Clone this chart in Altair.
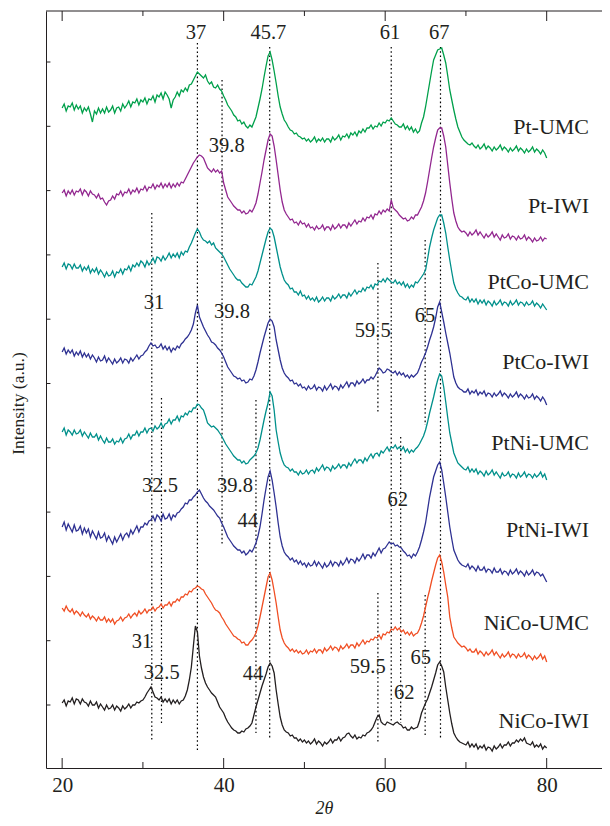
import altair as alt
import pandas as pd

# ---------------- data (intensity in a.u.) ----------------
two_theta = [20 + 0.25 * i for i in range(241)]

series_names = ["Pt-UMC", "Pt-IWI", "PtCo-UMC", "PtCo-IWI",
                "PtNi-UMC", "PtNi-IWI", "NiCo-UMC", "NiCo-IWI"]
series_colors = ["#00a04b", "#92278f", "#00908b", "#2e3192",
                 "#00908b", "#2e3192", "#f04e23", "#231f20"]
series_widths = [1.3, 1.3, 1.3, 1.3, 1.3, 1.3, 1.3, 1.6]

pt_umc = [
 660, 664, 657, 662, 661, 665, 658, 663, 659, 662, 655, 660, 657, 661, 654, 646,
 657, 654, 660, 655, 659, 655, 661, 656, 658, 662, 655, 660, 661, 657, 664, 660,
 663, 667, 661, 666, 665, 669, 663, 668, 666, 670, 664, 669, 668, 672, 666, 673,
 671, 675, 669, 676, 673, 669, 660, 668, 671, 676, 672, 678, 676, 680, 677, 683,
 684, 688, 692, 696, 694, 692, 690, 693, 687, 684, 686, 681, 680, 683, 679, 677,
 672, 668, 663, 660, 657, 653, 651, 647, 648, 644, 646, 642, 640, 643, 641, 646,
 651, 660, 669, 679, 691, 702, 712, 716, 708, 697, 685, 672, 661, 654, 648, 645,
 641, 638, 637, 634, 635, 632, 631, 629, 630, 627, 629, 626, 628, 631, 626, 629,
 627, 630, 626, 629, 629, 626, 631, 628, 630, 633, 628, 632, 631, 634, 630, 635,
 633, 636, 632, 637, 635, 639, 636, 640, 640, 643, 639, 642, 641, 645, 642, 646,
 645, 648, 647, 650, 647, 644, 643, 641, 641, 644, 639, 642, 638, 641, 636, 639,
 635, 637, 645, 651, 661, 673, 685, 697, 708, 713, 718, 719, 720, 713, 705, 692,
 678, 668, 658, 649, 641, 636, 631, 628, 626, 624, 623, 625, 622, 620, 623, 619,
 621, 624, 619, 622, 620, 617, 621, 618, 620, 623, 618, 621, 619, 616, 620, 617,
 619, 622, 617, 620, 618, 615, 619, 616, 618, 621, 616, 619, 617, 614, 618, 615,
 610]

pt_iwi = [
 575, 578, 572, 577, 574, 578, 573, 577, 576, 579, 573, 578, 576, 572, 577, 574,
 573, 570, 574, 569, 570, 566, 563, 567, 568, 572, 569, 574, 573, 577, 572, 576,
 575, 579, 574, 578, 576, 580, 575, 579, 578, 582, 577, 581, 580, 584, 579, 583,
 581, 585, 580, 584, 581, 585, 580, 584, 581, 585, 582, 586, 585, 589, 593, 597,
 601, 605, 608, 611, 613, 612, 610, 605, 600, 598, 596, 599, 596, 598, 595, 597,
 585, 578, 571, 568, 565, 562, 560, 558, 558, 555, 557, 554, 555, 558, 556, 560,
 565, 574, 585, 596, 608, 618, 628, 634, 632, 622, 608, 593, 578, 566, 558, 554,
 551, 548, 549, 545, 546, 543, 547, 544, 545, 541, 544, 540, 541, 538, 542, 539,
 540, 543, 538, 541, 541, 538, 543, 539, 541, 544, 540, 543, 543, 540, 545, 542,
 545, 548, 544, 547, 546, 550, 547, 551, 550, 553, 549, 554, 553, 557, 554, 558,
 556, 559, 557, 568, 560, 558, 556, 553, 551, 549, 550, 547, 548, 551, 549, 553,
 553, 557, 561, 567, 575, 586, 598, 610, 621, 630, 638, 640, 640, 632, 621, 603,
 585, 569, 555, 547, 541, 538, 536, 537, 535, 532, 536, 533, 535, 538, 533, 536,
 533, 530, 534, 531, 533, 536, 531, 534, 531, 528, 533, 530, 531, 534, 529, 532,
 531, 528, 532, 529, 530, 533, 528, 531, 529, 526, 530, 527, 528, 531, 527, 530,
 529]

ptco_umc = [
 501, 505, 499, 504, 503, 499, 504, 500, 500, 503, 497, 501, 498, 502, 495, 499,
 496, 500, 494, 498, 495, 491, 496, 492, 493, 497, 491, 496, 495, 499, 494, 499,
 498, 502, 497, 503, 501, 505, 502, 507, 505, 501, 507, 503, 506, 510, 505, 511,
 510, 507, 512, 508, 511, 515, 510, 514, 511, 515, 510, 516, 513, 517, 516, 521,
 525, 530, 535, 539, 536, 531, 528, 527, 525, 527, 523, 525, 520, 518, 516, 514,
 511, 507, 503, 499, 496, 493, 490, 488, 488, 485, 483, 481, 481, 484, 483, 487,
 491, 497, 505, 513, 521, 529, 536, 540, 538, 531, 521, 511, 501, 494, 488, 485,
 483, 479, 480, 476, 476, 473, 477, 472, 473, 469, 472, 468, 470, 467, 471, 466,
 468, 471, 467, 470, 470, 467, 472, 469, 471, 474, 470, 473, 473, 470, 475, 472,
 475, 478, 474, 477, 476, 480, 477, 481, 480, 483, 479, 484, 483, 487, 486, 489,
 486, 490, 488, 486, 485, 488, 484, 486, 483, 486, 481, 484, 480, 483, 481, 486,
 485, 488, 491, 494, 498, 509, 521, 530, 538, 544, 550, 553, 553, 545, 535, 521,
 508, 496, 485, 479, 475, 472, 471, 469, 468, 471, 466, 469, 466, 469, 464, 468,
 465, 468, 463, 467, 465, 462, 467, 463, 465, 468, 463, 466, 465, 462, 467, 463,
 465, 468, 463, 466, 465, 462, 466, 463, 464, 467, 462, 465, 463, 460, 464, 461,
 458]

ptco_iwi = [
 416, 420, 414, 418, 415, 418, 412, 416, 413, 417, 411, 415, 411, 414, 409, 413,
 410, 406, 411, 407, 408, 412, 406, 410, 407, 404, 409, 405, 407, 410, 405, 409,
 408, 405, 410, 407, 410, 413, 409, 412, 413, 416, 418, 422, 425, 422, 423, 420,
 421, 424, 419, 422, 418, 421, 416, 420, 418, 422, 420, 424, 426, 429, 431, 434,
 438, 444, 455, 463, 451, 446, 441, 437, 433, 430, 426, 425, 423, 420, 418, 415,
 411, 406, 401, 398, 395, 392, 391, 389, 390, 387, 388, 385, 386, 389, 388, 392,
 398, 406, 415, 423, 431, 438, 445, 449, 447, 441, 428, 418, 408, 400, 395, 392,
 390, 387, 388, 384, 385, 382, 384, 380, 381, 378, 382, 379, 380, 383, 378, 381,
 380, 377, 382, 378, 381, 384, 379, 382, 381, 378, 383, 380, 383, 386, 381, 385,
 385, 382, 387, 384, 386, 389, 385, 388, 388, 391, 389, 392, 396, 400, 398, 395,
 396, 399, 398, 396, 395, 397, 393, 396, 393, 395, 391, 393, 390, 393, 391, 393,
 395, 400, 406, 410, 415, 421, 428, 434, 441, 450, 461, 466, 456, 446, 435, 425,
 415, 403, 391, 385, 381, 379, 378, 376, 376, 379, 374, 377, 375, 378, 373, 376,
 374, 377, 372, 375, 374, 371, 375, 372, 374, 377, 372, 375, 373, 370, 374, 371,
 373, 376, 371, 374, 372, 369, 373, 370, 371, 374, 369, 372, 370, 367, 371, 368,
 363]

ptni_umc = [
 336, 340, 333, 338, 336, 333, 338, 334, 335, 338, 332, 336, 333, 330, 335, 331,
 331, 334, 328, 332, 328, 325, 330, 326, 326, 329, 324, 327, 326, 330, 325, 329,
 330, 334, 329, 333, 333, 337, 332, 336, 336, 340, 335, 339, 340, 337, 342, 339,
 341, 345, 340, 344, 345, 349, 344, 348, 348, 352, 347, 352, 351, 355, 353, 357,
 356, 360, 360, 364, 363, 360, 358, 352, 345, 343, 341, 342, 340, 338, 335, 332,
 328, 324, 321, 318, 315, 312, 310, 308, 308, 305, 307, 304, 305, 308, 310, 312,
 315, 320, 328, 338, 348, 357, 365, 376, 372, 358, 338, 326, 315, 308, 303, 301,
 300, 297, 299, 296, 296, 293, 297, 294, 295, 298, 294, 297, 298, 295, 300, 297,
 300, 303, 298, 301, 300, 297, 302, 299, 301, 304, 300, 303, 303, 300, 305, 302,
 306, 309, 305, 308, 308, 305, 310, 307, 311, 314, 310, 314, 315, 312, 317, 315,
 318, 321, 317, 321, 320, 323, 319, 321, 318, 321, 316, 319, 315, 318, 316, 319,
 321, 324, 328, 332, 338, 346, 355, 363, 371, 380, 388, 394, 392, 381, 366, 350,
 335, 325, 315, 310, 305, 303, 301, 299, 298, 301, 296, 299, 296, 299, 294, 297,
 295, 292, 297, 293, 295, 298, 293, 296, 293, 290, 295, 292, 293, 296, 291, 294,
 293, 290, 295, 291, 293, 296, 291, 294, 293, 290, 294, 291, 293, 296, 291, 294,
 288]

ptni_iwi = [
 241, 246, 238, 244, 240, 236, 243, 237, 238, 242, 234, 240, 235, 239, 231, 237,
 233, 229, 236, 230, 231, 235, 227, 232, 228, 224, 231, 226, 230, 234, 228, 233,
 235, 231, 238, 234, 238, 242, 236, 241, 241, 245, 243, 247, 248, 252, 247, 253,
 251, 247, 254, 249, 250, 254, 248, 253, 251, 255, 256, 259, 261, 265, 264, 268,
 268, 271, 273, 276, 278, 274, 270, 267, 265, 262, 260, 258, 255, 252, 250, 245,
 241, 236, 231, 228, 225, 222, 220, 218, 218, 215, 217, 213, 215, 218, 216, 220,
 225, 232, 241, 254, 268, 280, 291, 297, 288, 275, 261, 245, 231, 222, 216, 213,
 211, 208, 210, 206, 208, 204, 207, 203, 205, 201, 205, 202, 203, 207, 202, 206,
 203, 200, 205, 201, 203, 207, 202, 206, 205, 202, 207, 203, 206, 210, 205, 209,
 208, 205, 210, 207, 210, 214, 209, 213, 213, 210, 215, 212, 216, 220, 215, 219,
 220, 223, 226, 224, 225, 222, 223, 221, 220, 217, 215, 212, 213, 210, 214, 212,
 216, 221, 228, 236, 245, 258, 271, 281, 291, 297, 303, 306, 298, 285, 271, 256,
 241, 229, 218, 213, 208, 205, 203, 202, 201, 204, 199, 202, 200, 197, 202, 198,
 198, 201, 196, 199, 198, 195, 200, 196, 196, 199, 194, 197, 196, 193, 198, 194,
 196, 199, 194, 197, 195, 192, 197, 193, 195, 198, 193, 196, 195, 192, 194, 190,
 186]

nico_umc = [
 160, 157, 162, 158, 156, 159, 154, 157, 155, 152, 156, 153, 151, 154, 149, 152,
 150, 147, 151, 148, 148, 151, 146, 149, 146, 149, 144, 147, 148, 151, 147, 150,
 151, 154, 150, 153, 155, 152, 157, 154, 156, 159, 155, 158, 158, 161, 157, 160,
 161, 164, 160, 163, 163, 166, 162, 166, 166, 169, 167, 171, 171, 174, 173, 177,
 176, 179, 180, 182, 181, 179, 178, 174, 171, 168, 165, 161, 158, 157, 155, 151,
 148, 144, 141, 138, 135, 132, 131, 129, 128, 125, 126, 123, 123, 126, 128, 131,
 135, 142, 151, 161, 171, 181, 191, 195, 188, 177, 165, 151, 138, 130, 125, 122,
 120, 117, 119, 116, 118, 115, 117, 114, 115, 118, 114, 117, 116, 119, 115, 118,
 118, 115, 120, 117, 119, 122, 118, 121, 120, 117, 122, 119, 121, 124, 120, 123,
 123, 120, 125, 122, 125, 128, 124, 127, 126, 129, 128, 131, 130, 133, 129, 134,
 133, 136, 135, 139, 138, 141, 138, 140, 136, 138, 134, 136, 133, 136, 132, 134,
 135, 139, 145, 152, 161, 170, 178, 187, 195, 203, 210, 213, 206, 196, 183, 171,
 151, 140, 131, 128, 125, 123, 121, 122, 120, 117, 119, 116, 116, 119, 114, 117,
 115, 112, 116, 113, 115, 118, 113, 116, 113, 110, 114, 111, 113, 116, 111, 114,
 113, 110, 114, 111, 112, 115, 110, 113, 111, 108, 112, 109, 111, 114, 109, 112,
 106]

nico_iwi = [
 65, 68, 62, 67, 66, 70, 64, 69, 68, 64, 69, 66, 65, 62, 67, 63,
 63, 66, 60, 64, 61, 58, 63, 59, 60, 63, 58, 62, 60, 57, 62, 59,
 61, 64, 60, 63, 63, 66, 65, 67, 68, 71, 75, 78, 81, 76, 71, 70,
 68, 71, 66, 69, 66, 69, 64, 68, 65, 68, 64, 67, 68, 72, 78, 88,
 101, 122, 142, 136, 112, 100, 91, 85, 81, 78, 75, 73, 71, 66, 61, 58,
 55, 50, 46, 43, 40, 38, 37, 35, 35, 37, 36, 39, 40, 42, 45, 53,
 61, 68, 75, 82, 88, 94, 101, 105, 102, 95, 78, 64, 51, 43, 38, 36,
 35, 32, 33, 30, 30, 27, 29, 26, 28, 25, 27, 24, 26, 29, 24, 27,
 25, 22, 26, 24, 26, 29, 25, 28, 28, 31, 27, 30, 31, 34, 35, 32,
 30, 33, 29, 31, 30, 33, 32, 35, 36, 38, 41, 46, 51, 53, 46, 44,
 43, 46, 45, 44, 43, 45, 46, 44, 43, 40, 41, 38, 38, 41, 39, 40,
 41, 47, 55, 60, 65, 69, 75, 81, 88, 95, 103, 106, 102, 96, 81, 68,
 55, 44, 35, 31, 28, 26, 25, 24, 23, 26, 21, 24, 21, 24, 19, 22,
 20, 23, 18, 21, 20, 17, 22, 19, 21, 24, 20, 23, 23, 26, 22, 25,
 25, 28, 26, 29, 27, 30, 25, 24, 23, 26, 21, 23, 21, 24, 19, 22,
 20]

series_values = [pt_umc, pt_iwi, ptco_umc, ptco_iwi,
                 ptni_umc, ptni_iwi, nico_umc, nico_iwi]
for vals in series_values:
    assert len(vals) == len(two_theta), len(vals)

# reference (dotted) lines: position, top, bottom
ref_pos = [36.75, 45.7, 60.75, 66.85, 39.8, 31.1, 32.3, 44.0, 59.1, 59.1, 61.92, 64.95, 64.95]
ref_top = [725, 721, 721, 721, 688, 555, 370, 368, 505, 175, 331, 528, 173]
ref_bot = [18, 28, 46, 30, 223, 26, 43, 35, 356, 26, 45, 343, 33]

# peak annotations
ann_text = ["37", "45.7", "61", "67", "39.8", "31", "39.8", "59.5", "65",
            "32.5", "39.8", "44", "62", "31", "59.5", "65", "32.5", "44", "62"]
ann_x = [36.57, 45.53, 60.6, 66.7, 40.38, 31.37, 41.03, 58.46, 64.93,
         32.12, 41.4, 42.98, 61.55, 29.89, 57.84, 64.4, 32.33, 43.63, 62.37]
ann_y = [735, 735, 735, 735, 622, 465, 456, 437, 452,
         282, 282, 247, 268, 126, 101, 110, 95, 94, 75]

# series name labels
label_y = [641, 562, 486, 406, 325, 238, 145, 47]
label_x = 85.24

# axis ticks
x_major = [20, 40, 60, 80]
x_minor = [30, 50, 70]
y_ticks = [63, 127.3, 191.6, 255.9, 320.2, 384.5, 448.8, 513.1, 577.4, 641.7, 706]

X_MIN, X_MAX = 18, 86.85
Y_MIN, Y_MAX = 0, 757
FONT = "Liberation Serif"
INK = "#231f20"

# ---------------- tables ----------------
rows = []
for name, vals in zip(series_names, series_values):
    for x, v in zip(two_theta, vals):
        rows.append({"series": name, "x": x, "h": v})
lines_df = pd.DataFrame(rows)

ref_df = pd.DataFrame({"x": ref_pos, "h": ref_top, "bot": ref_bot})
ann_df = pd.DataFrame({"x": ann_x, "h": ann_y, "t": ann_text})
lab_df = pd.DataFrame({"x": [label_x] * 8, "h": label_y, "t": series_names})

tick_rows = []
for v in x_major:
    tick_rows.append({"x": v, "h": Y_MIN, "h2": Y_MIN + 10})
    tick_rows.append({"x": v, "h": Y_MAX, "h2": Y_MAX - 10})
for v in x_minor:
    tick_rows.append({"x": v, "h": Y_MIN, "h2": Y_MIN + 6})
    tick_rows.append({"x": v, "h": Y_MAX, "h2": Y_MAX - 5})
xt_df = pd.DataFrame(tick_rows)
yt_df = pd.DataFrame({"h": y_ticks, "x": [X_MIN] * len(y_ticks),
                      "x2": [X_MIN + 0.55] * len(y_ticks)})
top_df = pd.DataFrame({"x": [X_MIN], "x2": [X_MAX], "h": [Y_MAX]})

xs = alt.Scale(domain=[X_MIN, X_MAX], nice=False, zero=False)
ys = alt.Scale(domain=[Y_MIN, Y_MAX], nice=False, zero=False)

x_axis = alt.Axis(values=x_major, ticks=False, grid=False, domain=True,
                  domainColor=INK, domainWidth=1, labelFont=FONT,
                  labelFontSize=21, labelColor=INK, labelPadding=6,
                  format="d", title="2θ", titleFont=FONT,
                  titleFontSize=18, titleFontStyle="italic",
                  titleFontWeight="normal", titleColor=INK,
                  titleBaseline="alphabetic", titleY=45)
y_axis = alt.Axis(labels=False, ticks=False, grid=False, domain=True,
                  domainColor=INK, domainWidth=1,
                  title="Intensity (a.u.)", titleFont=FONT,
                  titleFontSize=17.5, titleFontWeight="normal",
                  titleColor=INK, titleAngle=270, titleX=-28,
                  titleY=392, titleAlign="center",
                  titleBaseline="middle")

X = alt.X("x:Q", scale=xs, axis=x_axis)
Y = alt.Y("h:Q", scale=ys, axis=y_axis)

refs = alt.Chart(ref_df).mark_rule(color="#000000", strokeWidth=1.2,
                                   strokeDash=[1.6, 2.6]).encode(
    x=X, y=Y, y2="bot:Q")

lines = alt.Chart(lines_df).mark_line(interpolate="linear").encode(
    x=X, y=Y,
    color=alt.Color("series:N", scale=alt.Scale(domain=series_names,
                                                range=series_colors), legend=None),
    strokeWidth=alt.StrokeWidth("series:N", scale=alt.Scale(domain=series_names,
                                range=series_widths), legend=None),
    order=alt.Order("x:Q"))

ann = alt.Chart(ann_df).mark_text(font=FONT, fontSize=20.5, color=INK,
                                  align="center", baseline="middle").encode(
    x=X, y=Y, text="t:N")

labs = alt.Chart(lab_df).mark_text(font=FONT, fontSize=22, color=INK,
                                   align="right", baseline="middle").encode(
    x=X, y=Y, text="t:N")

xticks = alt.Chart(xt_df).mark_rule(color=INK, strokeWidth=1).encode(
    x=X, y=Y, y2="h2:Q")

yticks = alt.Chart(yt_df).mark_rule(color=INK, strokeWidth=1).encode(
    y=Y, x=X, x2="x2:Q")

topline = alt.Chart(top_df).mark_rule(color=INK, strokeWidth=1).encode(
    x=X, x2="x2:Q", y=Y)

chart = alt.layer(refs, lines, ann, labs, xticks, yticks, topline).properties(
    width=556, height=757,
    autosize=alt.AutoSizeParams(type="none"),
    padding={"left": 38, "top": 3, "right": 0, "bottom": 50},
    background="white",
).configure_view(stroke=None)

chart.save("out.html", embed_options={"renderer": "svg", "actions": False})
